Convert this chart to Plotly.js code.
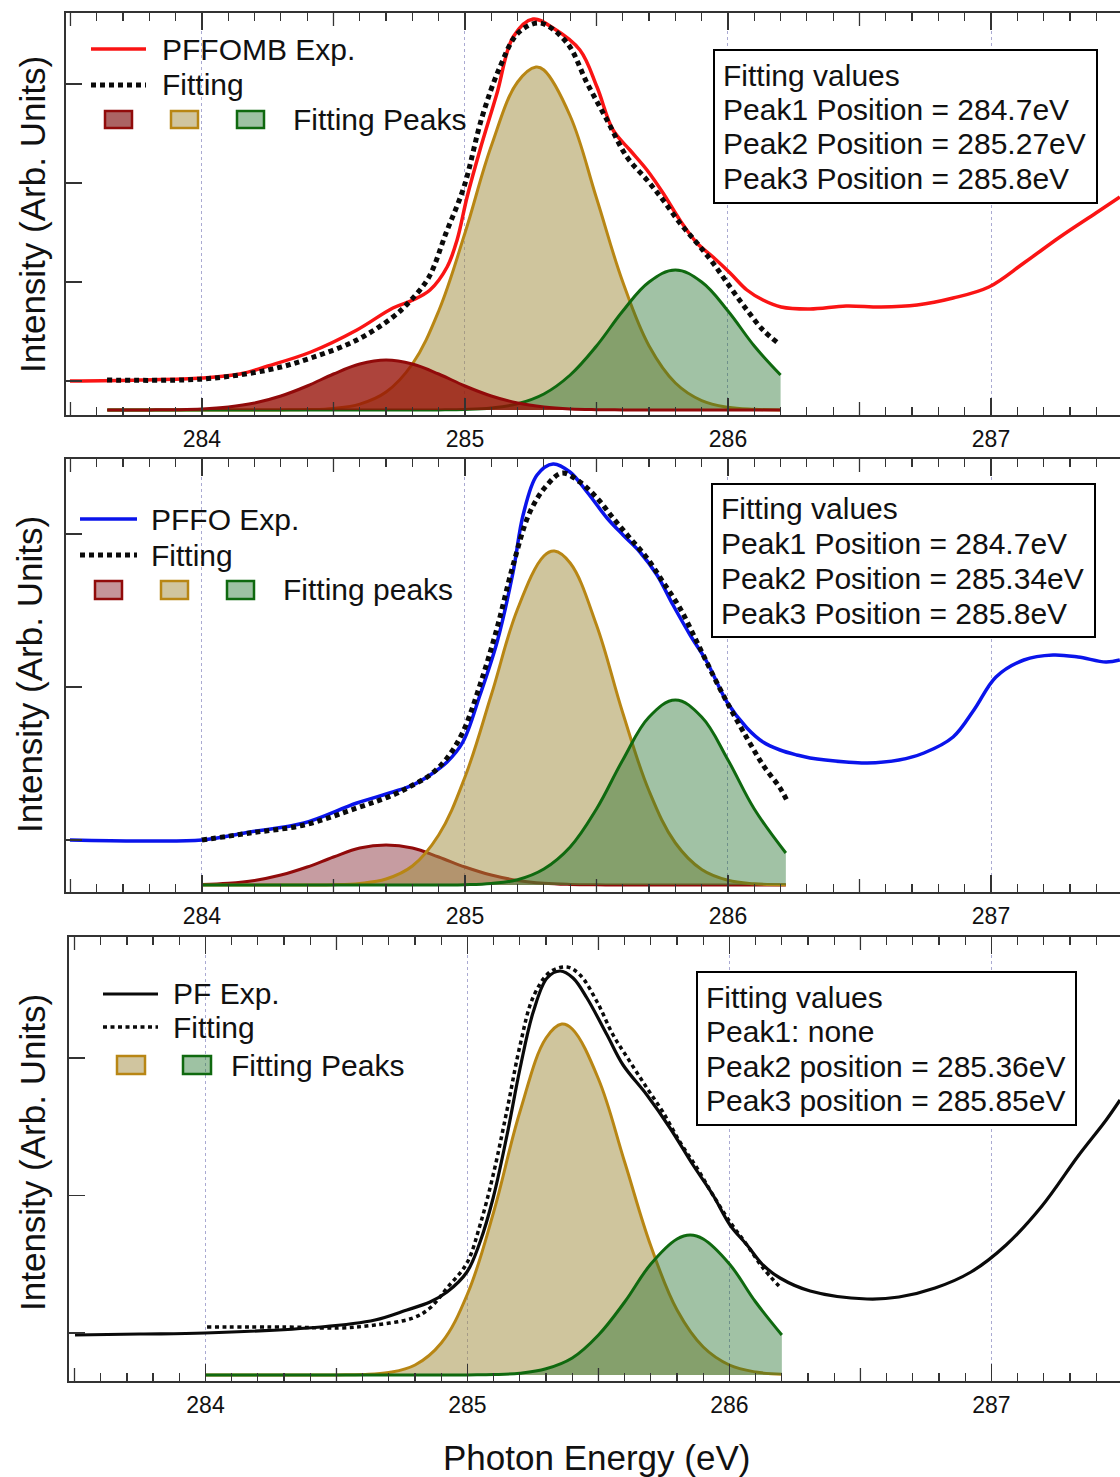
<!DOCTYPE html>
<html>
<head>
<meta charset="utf-8">
<script src="https://cdn.plot.ly/plotly-3.0.1.min.js"></script>
<style>
html,body{margin:0;padding:0;background:#fff;overflow:hidden;}
#chart{width:1120px;height:1477px;}
</style>
</head>
<body>
<div id="chart"></div>
<script>
// ---------------- DATA ----------------
// Panel 1 : PFFOMB
const P1_expX = [283.498, 283.764, 284.0, 284.144, 284.251, 284.414, 284.589, 284.726, 284.802, 284.867, 284.932, 284.970, 285.008, 285.057, 285.122, 285.183, 285.259, 285.335, 285.437, 285.502, 285.563, 285.627, 285.692, 285.753, 285.817, 285.882, 285.943, 286.008, 286.072, 286.133, 286.202, 286.312, 286.449, 286.582, 286.719, 286.856, 286.992, 287.125, 287.262, 287.399, 287.490];
const P1_expY = [0.29, 0.30, 0.32, 0.36, 0.44, 0.58, 0.80, 1.02, 1.10, 1.20, 1.43, 1.70, 2.13, 2.60, 3.17, 3.73, 3.91, 3.82, 3.60, 3.23, 2.80, 2.60, 2.40, 2.17, 1.90, 1.67, 1.53, 1.37, 1.20, 1.10, 1.03, 1.01, 1.04, 1.03, 1.05, 1.12, 1.23, 1.47, 1.73, 1.97, 2.13];
const P1_fitX = [283.639, 284.0, 284.251, 284.414, 284.589, 284.726, 284.795, 284.863, 284.928, 284.996, 285.065, 285.133, 285.202, 285.285, 285.388, 285.464, 285.540, 285.616, 285.692, 285.753, 285.817, 285.882, 285.943, 286.008, 286.072, 286.133, 286.190];
const P1_fitY = [0.30, 0.31, 0.40, 0.52, 0.70, 0.93, 1.10, 1.33, 1.77, 2.23, 2.93, 3.43, 3.77, 3.87, 3.67, 3.27, 2.90, 2.53, 2.30, 2.10, 1.87, 1.67, 1.47, 1.23, 1.00, 0.80, 0.67];
const P1_pk1X = [283.64, 283.8, 283.9, 284.0, 284.1, 284.2, 284.3, 284.4, 284.5, 284.6, 284.7, 284.8, 284.9, 285.0, 285.1, 285.2, 285.3, 285.4, 285.5, 285.6, 286.2];
const P1_pk1Y = [0, 0.001, 0.003, 0.01, 0.03, 0.07, 0.14, 0.24, 0.36, 0.46, 0.50, 0.46, 0.36, 0.24, 0.14, 0.07, 0.03, 0.01, 0.003, 0.001, 0];
const P1_pk2X = [283.64, 284.0, 284.3, 284.4, 284.5, 284.6, 284.7, 284.8, 284.9, 285.0, 285.1, 285.2, 285.27, 285.3, 285.4, 285.5, 285.6, 285.7, 285.8, 285.9, 286.0, 286.1, 286.2];
const P1_pk2Y = [0, 0, 0.001, 0.004, 0.016, 0.059, 0.18, 0.46, 0.99, 1.77, 2.64, 3.28, 3.43, 3.40, 2.94, 2.12, 1.28, 0.64, 0.27, 0.094, 0.027, 0.007, 0.001];
const P1_pk3X = [283.64, 284.8, 284.9, 285.0, 285.1, 285.2, 285.3, 285.4, 285.5, 285.6, 285.7, 285.8, 285.9, 286.0, 286.1, 286.2];
const P1_pk3Y = [0, 0, 0.001, 0.005, 0.02, 0.062, 0.16, 0.35, 0.64, 0.99, 1.28, 1.40, 1.28, 0.99, 0.64, 0.35];

// Panel 2 : PFFO
const P2_expX = [283.498, 283.764, 284.0, 284.183, 284.388, 284.589, 284.726, 284.802, 284.867, 284.932, 284.992, 285.057, 285.122, 285.183, 285.221, 285.274, 285.335, 285.399, 285.464, 285.540, 285.601, 285.665, 285.730, 285.791, 285.856, 285.920, 285.996, 286.072, 286.133, 286.198, 286.262, 286.312, 286.449, 286.529, 286.650, 286.745, 286.856, 286.935, 287.019, 287.125, 287.236, 287.331, 287.437, 287.490];
const P2_expY = [0.45, 0.44, 0.45, 0.53, 0.62, 0.82, 0.93, 1.00, 1.10, 1.23, 1.43, 1.90, 2.43, 3.13, 3.70, 4.10, 4.21, 4.13, 3.93, 3.67, 3.50, 3.33, 3.10, 2.80, 2.50, 2.23, 1.83, 1.57, 1.43, 1.35, 1.30, 1.27, 1.23, 1.22, 1.25, 1.32, 1.48, 1.75, 2.08, 2.25, 2.30, 2.28, 2.23, 2.25];
const P2_fitX = [284.0, 284.183, 284.388, 284.589, 284.726, 284.802, 284.867, 284.932, 284.992, 285.057, 285.122, 285.183, 285.247, 285.312, 285.369, 285.437, 285.502, 285.563, 285.627, 285.692, 285.753, 285.817, 285.882, 285.943, 286.008, 286.072, 286.133, 286.198, 286.225];
const P2_fitY = [0.45, 0.52, 0.60, 0.77, 0.90, 1.00, 1.10, 1.27, 1.53, 2.00, 2.57, 3.20, 3.73, 4.00, 4.12, 4.03, 3.87, 3.67, 3.47, 3.27, 3.03, 2.77, 2.43, 2.10, 1.77, 1.47, 1.20, 0.97, 0.84];
const P2_pk1X = [284.0, 284.1, 284.2, 284.3, 284.4, 284.5, 284.6, 284.7, 284.8, 284.9, 285.0, 285.1, 285.2, 285.3, 285.4, 285.5, 285.6, 286.22];
const P2_pk1Y = [0.006, 0.018, 0.046, 0.10, 0.18, 0.28, 0.37, 0.40, 0.37, 0.28, 0.18, 0.10, 0.046, 0.018, 0.006, 0.0015, 0, 0];
const P2_pk2X = [284.0, 284.4, 284.5, 284.6, 284.7, 284.8, 284.9, 285.0, 285.1, 285.2, 285.3, 285.34, 285.4, 285.5, 285.6, 285.7, 285.8, 285.9, 286.0, 286.1, 286.22];
const P2_pk2Y = [0, 0.001, 0.003, 0.016, 0.06, 0.19, 0.50, 1.08, 1.90, 2.76, 3.29, 3.34, 3.22, 2.60, 1.72, 0.94, 0.42, 0.155, 0.047, 0.012, 0.002];
const P2_pk3X = [284.0, 284.9, 285.0, 285.1, 285.2, 285.3, 285.4, 285.5, 285.6, 285.7, 285.8, 285.9, 286.0, 286.1, 286.22];
const P2_pk3Y = [0, 0.001, 0.003, 0.015, 0.053, 0.16, 0.38, 0.76, 1.25, 1.68, 1.85, 1.68, 1.25, 0.76, 0.32];

// Panel 3 : PF
const P3_expX = [283.502, 283.750, 283.998, 284.441, 284.647, 284.769, 284.857, 284.922, 284.998, 285.048, 285.098, 285.151, 285.201, 285.251, 285.304, 285.354, 285.403, 285.456, 285.533, 285.594, 285.685, 285.773, 285.861, 285.937, 286.002, 286.067, 286.128, 286.193, 286.308, 286.525, 286.647, 286.785, 286.922, 287.056, 287.193, 287.331, 287.438, 287.491];
const P3_expY = [0.40, 0.41, 0.42, 0.48, 0.55, 0.65, 0.73, 0.83, 1.03, 1.33, 1.77, 2.40, 3.07, 3.63, 3.97, 4.04, 3.97, 3.77, 3.40, 3.10, 2.80, 2.47, 2.10, 1.80, 1.50, 1.30, 1.10, 0.97, 0.84, 0.76, 0.78, 0.87, 1.03, 1.30, 1.69, 2.19, 2.55, 2.75];
const P3_fitX = [284.006, 284.308, 284.510, 284.647, 284.792, 284.857, 284.922, 284.998, 285.048, 285.098, 285.151, 285.201, 285.251, 285.315, 285.380, 285.430, 285.495, 285.556, 285.621, 285.685, 285.746, 285.811, 285.876, 285.937, 286.002, 286.067, 286.128, 286.189];
const P3_fitY = [0.48, 0.48, 0.47, 0.50, 0.57, 0.67, 0.87, 1.12, 1.50, 2.00, 2.65, 3.30, 3.78, 4.03, 4.08, 4.00, 3.73, 3.40, 3.13, 2.87, 2.63, 2.33, 2.07, 1.80, 1.53, 1.30, 1.07, 0.89];
const P3_pk2X = [284.0, 284.5, 284.6, 284.7, 284.8, 284.9, 285.0, 285.1, 285.2, 285.3, 285.36, 285.4, 285.5, 285.6, 285.7, 285.8, 285.9, 286.0, 286.1, 286.2];
const P3_pk2Y = [0, 0.001, 0.005, 0.025, 0.10, 0.32, 0.81, 1.63, 2.63, 3.37, 3.51, 3.46, 2.96, 2.13, 1.29, 0.65, 0.28, 0.10, 0.03, 0.008];
const P3_pk3X = [284.0, 285.0, 285.1, 285.2, 285.3, 285.4, 285.5, 285.6, 285.7, 285.8, 285.85, 285.9, 286.0, 286.1, 286.2];
const P3_pk3Y = [0, 0.001, 0.004, 0.018, 0.062, 0.17, 0.40, 0.73, 1.11, 1.36, 1.40, 1.36, 1.11, 0.73, 0.40];

// Half-eV tick positions (medium-length ticks on bottom and top axes)
const HALF_TICKS = [283.5, 284.5, 285.5, 286.5];

// Text
const XTITLE = 'Photon Energy (eV)';
const YTITLE = 'Intensity (Arb. Units)';
const LEG1 = ['PFFOMB Exp.', 'Fitting', 'Fitting Peaks'];
const LEG2 = ['PFFO Exp.', 'Fitting', 'Fitting peaks'];
const LEG3 = ['PF Exp.', 'Fitting', 'Fitting Peaks'];
const BOX1 = ['Fitting values', 'Peak1 Position = 284.7eV', 'Peak2 Position = 285.27eV', 'Peak3 Position = 285.8eV'];
const BOX2 = ['Fitting values', 'Peak1 Position = 284.7eV', 'Peak2 Position = 285.34eV', 'Peak3 Position = 285.8eV'];
const BOX3 = ['Fitting values', 'Peak1: none', 'Peak2 position = 285.36eV', 'Peak3 position = 285.85eV'];

// ---------------- STYLE ----------------
const W = 1120, H = 1477;
const FONT = 'Liberation Sans, Arial, Helvetica, sans-serif';
const C = {
  red: 'rgb(250,20,20)', blue: 'rgb(10,20,235)', black: 'rgb(10,10,10)',
  pk1Line: 'rgb(145,10,10)', pk1Fill: 'rgba(150,15,5,0.78)', pk1FillLight: 'rgba(120,20,30,0.42)',
  pk2Line: 'rgb(184,134,20)', pk2Fill: 'rgba(160,140,60,0.5)',
  pk3Line: 'rgb(15,105,15)', pk3Fill: 'rgba(30,110,40,0.42)',
  axis: '#333', grid: 'rgb(170,170,210)'
};
const G1 = {l: 66, r: 1120, t: 13, b: 415};
const G2 = {l: 66, r: 1120, t: 459, b: 892};
const G3 = {l: 69, r: 1120, t: 937, b: 1381};

function px(x) { return x / W; }
function py(y) { return 1 - y / H; }

function xAxis(g, range, anchor) {
  return {
    domain: [g.l / W, g.r / W], range: range, anchor: anchor,
    showline: true, linecolor: C.axis, linewidth: 1.8, mirror: 'ticks',
    ticks: 'inside', ticklen: 17, tickwidth: 1.4, tickcolor: C.axis,
    tickmode: 'linear', tick0: 284, dtick: 1, ticklabelstandoff: 3,
    tickfont: {size: 23, color: '#111', family: FONT},
    showgrid: true, gridcolor: C.grid, griddash: 'dot', gridwidth: 1,
    zeroline: false, fixedrange: true,
    minor: {ticks: 'inside', tick0: 284, dtick: 0.1, ticklen: 8, tickwidth: 1.2, tickcolor: C.axis, showgrid: false}
  };
}
function yAxis(g, range, t0, dt, anchor) {
  return {
    domain: [1 - g.b / H, 1 - g.t / H], range: range, anchor: anchor,
    showline: true, linecolor: C.axis, linewidth: 1.8, mirror: false,
    ticks: 'inside', ticklen: 16, tickwidth: 1.4, tickcolor: C.axis,
    tickmode: 'linear', tick0: t0, dtick: dt, showticklabels: false,
    showgrid: false, zeroline: false, fixedrange: true
  };
}

function peak(x, y, xa, ya, line, fill) {
  return {x: x, y: y, xaxis: xa, yaxis: ya, type: 'scatter', mode: 'lines',
    line: {color: line, width: 3, shape: 'spline', smoothing: 1.1},
    fill: 'tozeroy', fillcolor: fill, hoverinfo: 'skip'};
}
function curve(x, y, xa, ya, color, width, dash) {
  return {x: x, y: y, xaxis: xa, yaxis: ya, type: 'scatter', mode: 'lines',
    line: {color: color, width: width, dash: dash || 'solid', shape: 'spline', smoothing: 1.0}, hoverinfo: 'skip'};
}

const traces = [
  // panel 1
  peak(P1_pk2X, P1_pk2Y, 'x', 'y', C.pk2Line, C.pk2Fill),
  peak(P1_pk3X, P1_pk3Y, 'x', 'y', C.pk3Line, C.pk3Fill),
  peak(P1_pk1X, P1_pk1Y, 'x', 'y', C.pk1Line, C.pk1Fill),
  curve(P1_expX, P1_expY, 'x', 'y', C.red, 3.5),
  curve(P1_fitX, P1_fitY, 'x', 'y', C.black, 5, '5px,4px'),
  // panel 2
  peak(P2_pk1X, P2_pk1Y, 'x2', 'y2', C.pk1Line, C.pk1FillLight),
  peak(P2_pk2X, P2_pk2Y, 'x2', 'y2', C.pk2Line, C.pk2Fill),
  peak(P2_pk3X, P2_pk3Y, 'x2', 'y2', C.pk3Line, C.pk3Fill),
  curve(P2_expX, P2_expY, 'x2', 'y2', C.blue, 3.5),
  curve(P2_fitX, P2_fitY, 'x2', 'y2', C.black, 5, '5px,4px'),
  // panel 3
  peak(P3_pk2X, P3_pk2Y, 'x3', 'y3', C.pk2Line, C.pk2Fill),
  peak(P3_pk3X, P3_pk3Y, 'x3', 'y3', C.pk3Line, C.pk3Fill),
  curve(P3_expX, P3_expY, 'x3', 'y3', C.black, 3.2),
  curve(P3_fitX, P3_fitY, 'x3', 'y3', C.black, 3.5, '4px,3.5px')
];

const shapes = [];
const annotations = [];

function text(t, x, y, size, anchor, angle) {
  annotations.push({xref: 'paper', yref: 'paper', x: px(x), y: py(y), text: t, showarrow: false,
    xanchor: anchor || 'left', yanchor: 'middle', textangle: angle || 0,
    font: {size: size, family: FONT, color: '#111'}});
}
function hline(x0, x1, y, color, width, dash) {
  shapes.push({type: 'line', xref: 'paper', yref: 'paper', layer: 'above',
    x0: px(x0), x1: px(x1), y0: py(y), y1: py(y), line: {color: color, width: width, dash: dash || 'solid'}});
}
function swatch(x0, x1, y0, y1, line, fill) {
  shapes.push({type: 'rect', xref: 'paper', yref: 'paper', layer: 'above',
    x0: px(x0), x1: px(x1), y0: py(y0), y1: py(y1), fillcolor: fill, line: {color: line, width: 2.5}});
}
function box(x0, x1, y0, y1) {
  shapes.push({type: 'rect', xref: 'paper', yref: 'paper', layer: 'above',
    x0: px(x0), x1: px(x1), y0: py(y0), y1: py(y1), fillcolor: '#fff', line: {color: '#000', width: 2}});
}
function legendBg(g, xr, yr, x0, x1, y0, y1) {
  shapes.push({type: 'rect', xref: xr + ' domain', yref: yr + ' domain', layer: 'below',
    x0: (x0 - g.l) / (g.r - g.l), x1: (x1 - g.l) / (g.r - g.l),
    y0: (g.b - y1) / (g.b - g.t), y1: (g.b - y0) / (g.b - g.t),
    fillcolor: '#fff', line: {width: 0}});
}
function halfTicks(g, xr, yr) {
  const f = 13 / (g.b - g.t);
  HALF_TICKS.forEach(v => {
    shapes.push({type: 'line', xref: xr, yref: yr + ' domain', layer: 'above', x0: v, x1: v, y0: 0, y1: f,
      line: {color: C.axis, width: 1.3}});
    shapes.push({type: 'line', xref: xr, yref: yr + ' domain', layer: 'above', x0: v, x1: v, y0: 1, y1: 1 - f,
      line: {color: C.axis, width: 1.3}});
  });
}
halfTicks(G1, 'x', 'y');
halfTicks(G2, 'x2', 'y2');
halfTicks(G3, 'x3', 'y3');

const swRed1 = 'rgba(150,60,60,0.8)', swRed2 = 'rgba(150,60,70,0.55)';
const swTan = 'rgba(170,150,80,0.55)', swGreen = 'rgba(40,120,50,0.45)';

// Panel 1 legend
legendBg(G1, 'x', 'y', 84, 476, 31, 137);
hline(91, 146, 49, C.red, 3.5);
text(LEG1[0], 160, 49, 30);
hline(91, 146, 85, C.black, 5, '5px,4px');
text(LEG1[1], 160, 85, 30);
swatch(105, 132, 111, 128, C.pk1Line, swRed1);
swatch(171, 198, 111, 128, C.pk2Line, swTan);
swatch(237, 264, 111, 128, C.pk3Line, swGreen);
text(LEG1[2], 291, 119, 30);
// Panel 1 box
box(714, 1097, 50, 203);
BOX1.forEach((t, i) => text(t, 721, 75 + i * 34.5, 30));

// Panel 2 legend
legendBg(G2, 'x2', 'y2', 84, 458, 478, 607);
hline(80, 137, 519, C.blue, 3.5);
text(LEG2[0], 149, 519, 30);
hline(80, 137, 555, C.black, 5, '5px,4px');
text(LEG2[1], 149, 555, 30);
swatch(95, 122, 581, 599, C.pk1Line, swRed2);
swatch(161, 188, 581, 599, C.pk2Line, swTan);
swatch(227, 254, 581, 599, C.pk3Line, swGreen);
text(LEG2[2], 281, 589, 30);
// Panel 2 box
box(712, 1095, 484, 637);
BOX2.forEach((t, i) => text(t, 719, 509 + i * 34.7, 30));

// Panel 3 legend
hline(103, 158, 994, C.black, 3.2);
text(LEG3[0], 171, 994, 30);
hline(103, 158, 1027, C.black, 3.5, '4px,3.5px');
text(LEG3[1], 171, 1027, 30);
swatch(117, 145, 1056, 1074, C.pk2Line, swTan);
swatch(183, 211, 1056, 1074, C.pk3Line, swGreen);
text(LEG3[2], 229, 1065, 30);
// Panel 3 box
box(697, 1076, 972, 1125);
BOX3.forEach((t, i) => text(t, 704, 997 + i * 34.5, 30));

// Axis titles
text(YTITLE, 32, 215, 35, 'center', -90);
text(YTITLE, 29, 675, 35, 'center', -90);
text(YTITLE, 32, 1153, 35, 'center', -90);
text(XTITLE, 596, 1457, 35, 'center');

const layout = {
  width: W, height: H, margin: {l: 0, r: 0, t: 0, b: 0},
  paper_bgcolor: '#fff', plot_bgcolor: 'rgba(0,0,0,0)', showlegend: false,
  font: {family: FONT, color: '#111'},
  xaxis: xAxis(G1, [283.483, 287.4905], 'y'),
  yaxis: yAxis(G1, [-0.05, 3.97], 0.29, 0.99, 'x'),
  xaxis2: xAxis(G2, [283.483, 287.4905], 'y2'),
  yaxis2: yAxis(G2, [-0.07, 4.26], 0.45, 1.53, 'x2'),
  xaxis3: xAxis(G3, [283.479, 287.4908], 'y3'),
  yaxis3: yAxis(G3, [-0.06, 4.38], 0.42, 1.375, 'x3'),
  shapes: shapes, annotations: annotations
};

Plotly.newPlot('chart', traces, layout, {staticPlot: true, displayModeBar: false});
</script>
</body>
</html>
